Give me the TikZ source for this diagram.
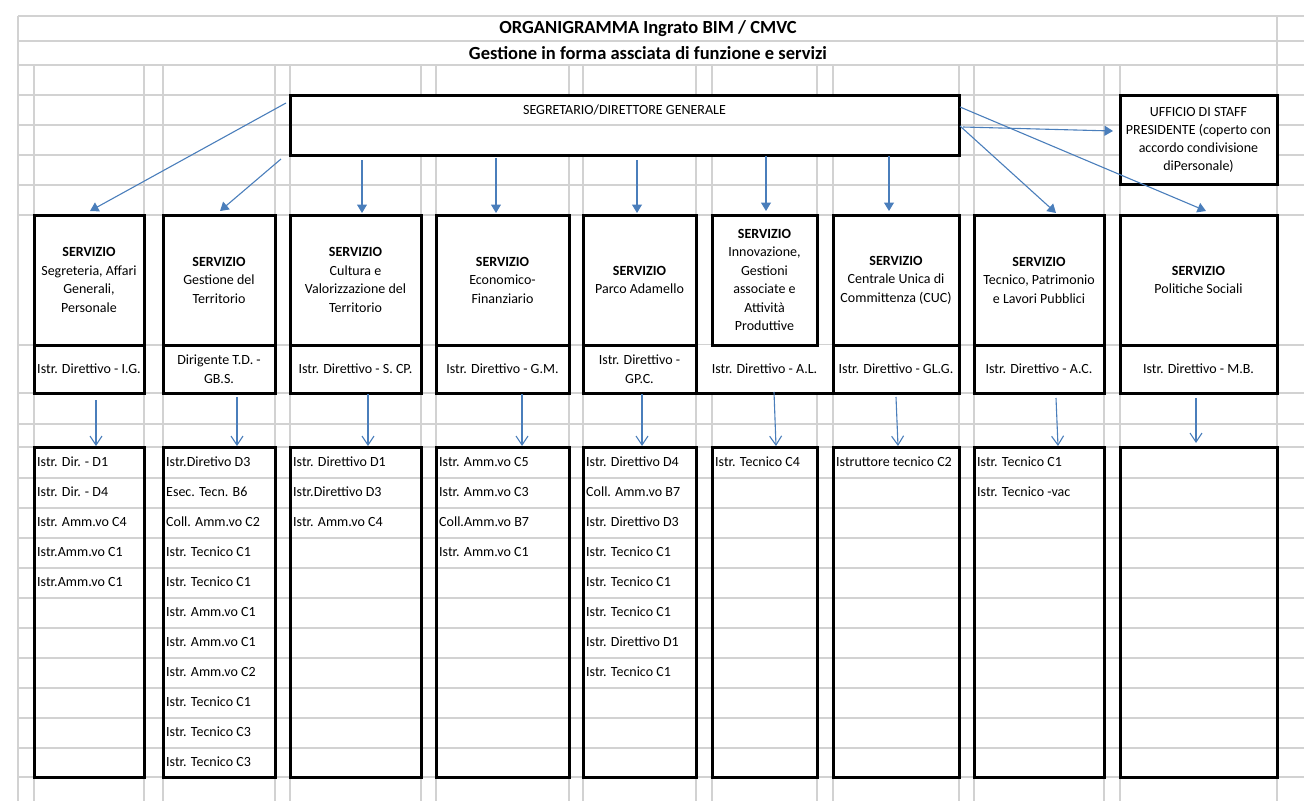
\documentclass[tikz,border=0pt]{standalone}
\usepackage{fontspec}
\setmainfont{Carlito}
\usetikzlibrary{arrows.meta,calc}
\definecolor{gridc}{HTML}{D2D2D2}
\definecolor{arrc}{HTML}{4A7EBB}
\newcommand\stafflist[2]{\foreach \t [count=\k] in {#2} {\path (#1.north west) ++(3,{15.5+30*(\k-1)}) node[item] (#1-\k) {\t};}}
\begin{document}
\begin{tikzpicture}[x=1pt,y=-1pt,font=\fontsize{14}{18.5}\selectfont,
  gridl/.style={draw=gridc,line width=1.2pt},
  box/.style={draw,line width=3pt,fill=white,inner sep=0pt,outer sep=0pt,anchor=north west,align=center},
  listbox/.style={draw,line width=3pt,inner sep=0pt,outer sep=0pt,anchor=north west},
  item/.style={anchor=west,inner sep=0pt,text height=10pt,text depth=3pt},
  arrT/.style={draw=arrc,line width=1.1pt,-{Triangle[width=10pt,length=8.5pt]}},
  arrV/.style={draw=arrc,line width=1.1pt,-{Straight Barb[width=12pt,length=9pt]}},
  ttl/.style={font=\bfseries\fontsize{18.5}{22}\selectfont,inner sep=0pt}]
\useasboundingbox (0,0) rectangle (1304,801);
% grid
\foreach \y in {16,41,65,95,125,155,185,215,345,393,424,447,478,508,538,568,598,628,658,688,718,748,777}
  \draw[gridl] (18,\y) -- (1304,\y);
\foreach \x in {18,1277} \draw[gridl] (\x,16) -- (\x,801);
\foreach \x in {34,144,163,275,290,421,436,569,583,696,712,817,833,959,974,1104,1120}
  \draw[gridl] (\x,65) -- (\x,801);
% titles
\node[ttl] (t1) at (648,28.5) {ORGANIGRAMMA Ingrato BIM / CMVC};
\node[ttl] (t2) at (648,53) {Gestione in forma assciata di funzione e servizi};
% merged cell of column 6 (drawn first)
\node[fill=white,inner sep=0pt,outer sep=0pt,anchor=north west,minimum width=137pt,minimum height=48pt] (i6) at (696,345) {Istr. Direttivo - A.L.};
\draw[line width=3pt] (i6.south west) -- (i6.south east);
% top boxes
\node[box,minimum width=669pt,minimum height=60pt] (seg) at (290,95) {};
\draw[gridl] ($(seg.west)+(1.5,0)$) -- ($(seg.east)+(-1.5,0)$);
\node[inner sep=0pt] (segl) at ($(seg.north)+(0,15)$) {SEGRETARIO/DIRETTORE GENERALE};
\node[box,minimum width=157pt,minimum height=89pt,font=\fontsize{14}{18}\selectfont] (staff) at (1120,95) {UFFICIO DI STAFF\\PRESIDENTE (coperto con\\accordo condivisione\\diPersonale)};
% service boxes
\node[box,minimum width=110pt,minimum height=130pt] (s1) at (34,215) {\textbf{SERVIZIO}\\Segreteria, Affari\\Generali,\\Personale};
\node[box,minimum width=112pt,minimum height=130pt] (s2) at (163,215) {\textbf{SERVIZIO}\\Gestione del\\Territorio};
\node[box,minimum width=131pt,minimum height=130pt] (s3) at (290,215) {\textbf{SERVIZIO}\\Cultura e\\Valorizzazione del\\Territorio};
\node[box,minimum width=133pt,minimum height=130pt] (s4) at (436,215) {\textbf{SERVIZIO}\\Economico-\\Finanziario};
\node[box,minimum width=113pt,minimum height=130pt] (s5) at (583,215) {\textbf{SERVIZIO}\\Parco Adamello};
\node[box,minimum width=105pt,minimum height=130pt] (s6) at (712,215) {\textbf{SERVIZIO}\\Innovazione,\\Gestioni\\associate e\\Attività\\Produttive};
\node[box,minimum width=126pt,minimum height=130pt] (s7) at (833,215) {\textbf{SERVIZIO}\\Centrale Unica di\\Committenza (CUC)};
\node[box,minimum width=130pt,minimum height=130pt] (s8) at (974,215) {\textbf{SERVIZIO}\\Tecnico, Patrimonio\\e Lavori Pubblici};
\node[box,minimum width=157pt,minimum height=130pt] (s9) at (1120,215) {\textbf{SERVIZIO}\\Politiche Sociali};
% responsible rows
\node[box,minimum width=110pt,minimum height=48pt] (i1) at (34,345) {Istr. Direttivo - I.G.};
\node[box,minimum width=112pt,minimum height=48pt] (i2) at (163,345) {Dirigente T.D. -\\GB.S.};
\node[box,minimum width=131pt,minimum height=48pt] (i3) at (290,345) {Istr. Direttivo - S. CP.};
\node[box,minimum width=133pt,minimum height=48pt] (i4) at (436,345) {Istr. Direttivo - G.M.};
\node[box,minimum width=113pt,minimum height=48pt] (i5) at (583,345) {Istr. Direttivo -\\GP.C.};
\node[box,minimum width=126pt,minimum height=48pt] (i7) at (833,345) {Istr. Direttivo - GL.G.};
\node[box,minimum width=130pt,minimum height=48pt] (i8) at (974,345) {Istr. Direttivo - A.C.};
\node[box,minimum width=157pt,minimum height=48pt] (i9) at (1120,345) {Istr. Direttivo - M.B.};
% staff lists
\node[listbox,minimum width=110pt,minimum height=330pt] (l1) at (34,447) {};
\node[listbox,minimum width=112pt,minimum height=330pt] (l2) at (163,447) {};
\node[listbox,minimum width=131pt,minimum height=330pt] (l3) at (290,447) {};
\node[listbox,minimum width=133pt,minimum height=330pt] (l4) at (436,447) {};
\node[listbox,minimum width=113pt,minimum height=330pt] (l5) at (583,447) {};
\node[listbox,minimum width=105pt,minimum height=330pt] (l6) at (712,447) {};
\node[listbox,minimum width=126pt,minimum height=330pt] (l7) at (833,447) {};
\node[listbox,minimum width=130pt,minimum height=330pt] (l8) at (974,447) {};
\node[listbox,minimum width=157pt,minimum height=330pt] (l9) at (1120,447) {};
\stafflist{l1}{Istr. Dir. - D1,Istr. Dir. - D4,Istr. Amm.vo C4,Istr.Amm.vo C1,Istr.Amm.vo C1}
\stafflist{l2}{Istr.Diretivo D3,Esec. Tecn. B6,Coll. Amm.vo C2,Istr. Tecnico C1,Istr. Tecnico C1,Istr. Amm.vo C1,Istr. Amm.vo C1,Istr. Amm.vo C2,Istr. Tecnico C1,Istr. Tecnico C3,Istr. Tecnico C3}
\stafflist{l3}{Istr. Direttivo D1,Istr.Direttivo D3,Istr. Amm.vo C4}
\stafflist{l4}{Istr. Amm.vo C5,Istr. Amm.vo C3,Coll.Amm.vo B7,Istr. Amm.vo C1}
\stafflist{l5}{Istr. Direttivo D4,Coll. Amm.vo B7,Istr. Direttivo D3,Istr. Tecnico C1,Istr. Tecnico C1,Istr. Tecnico C1,Istr. Direttivo D1,Istr. Tecnico C1}
\stafflist{l6}{Istr. Tecnico C4}
\stafflist{l7}{Istruttore tecnico C2}
\stafflist{l8}{Istr. Tecnico C1,Istr. Tecnico -vac}
% arrows from the secretary
\draw[arrT] ($(seg.north west)+(-4,8)$) -- ($(s1.north)+(1,-4)$);
\draw[arrT] ($(seg.south west)+(-9,4)$) -- ($(s2.north)+(1,-4)$);
\draw[arrT] ($(seg.south west)+(72,5)$) -- ($(s3.north)+(6.5,-2)$);
\draw[arrT] ($(seg.south west)+(206,3)$) -- ($(s4.north)+(-6.5,-2)$);
\draw[arrT] ($(seg.south west)+(347,5)$) -- ($(s5.north)+(-2.5,-2)$);
\draw[arrT] ($(seg.south west)+(476,1)$) -- ($(s6.north)+(1.5,-4)$);
\draw[arrT] ($(seg.south west)+(599,1)$) -- ($(s7.north)+(-7,-4)$);
\draw[arrT] ($(seg.east)+(1,1)$) -- ($(s8.north)+(17,-2)$);
\draw[arrT] ($(seg.east)+(1,-18)$) -- ($(s9.north)+(7.5,-4)$);
\draw[arrT] ($(seg.east)+(4,2)$) -- ($(staff.west)+(-7,-8.5)$);
% arrows to the staff lists
\draw[arrV] ($(i1.south)+(7,7)$) -- ($(l1.north)+(7,-1)$);
\draw[arrV] ($(i2.south)+(18,4)$) -- ($(l2.north)+(18,-1)$);
\draw[arrV] ($(i3.south)+(12.5,1)$) -- ($(l3.north)+(12.5,-1)$);
\draw[arrV] ($(i4.south)+(19.5,1)$) -- ($(l4.north)+(19.5,-1)$);
\draw[arrV] ($(i5.south)+(2.5,1)$) -- ($(l5.north)+(2.5,-1)$);
\draw[arrV] ($(i6.south)+(9.5,-1)$) -- ($(l6.north)+(11.5,-1)$);
\draw[arrV] ($(i7.south)+(0,4)$) -- ($(l7.north)+(2,-1)$);
\draw[arrV] ($(i8.south)+(17,5)$) -- ($(l8.north)+(19,-1)$);
\draw[arrV] ($(i9.south)+(-2.5,5)$) -- ($(l9.north)+(-2.5,-4)$);
\end{tikzpicture}
\end{document}
